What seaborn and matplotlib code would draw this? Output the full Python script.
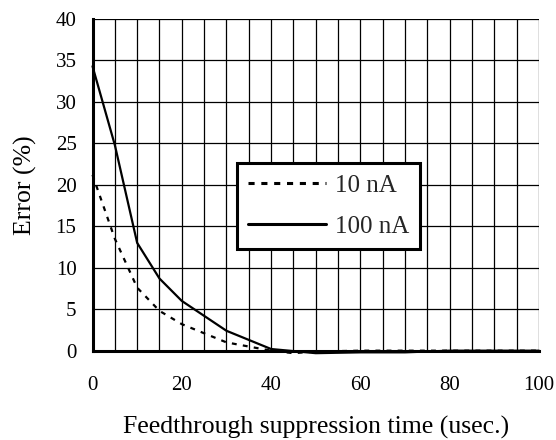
import matplotlib
matplotlib.use("Agg")
import matplotlib.pyplot as plt
import seaborn as sns
import pandas as pd
import numpy as np
from matplotlib.lines import Line2D

# Data
x_10nA = [0, 5, 10, 15, 20, 25, 30, 40, 45, 50, 60, 70, 80, 100]
y_10nA = [21.2, 13.5, 7.6, 4.8, 3.2, 2.1, 1.0, 0.0, -0.3, -0.1, 0.0, 0.0, 0.0, 0.0]
x_100nA = [0, 5, 10, 15, 20, 30, 40, 50, 60, 70, 80, 100]
y_100nA = [34.3, 24.8, 13.0, 8.7, 6.0, 2.4, 0.2, -0.3, -0.2, -0.2, 0.0, 0.0]
series_names = ["10 nA", "100 nA"]
x_ticks = [0, 20, 40, 60, 80, 100]
y_ticks = [0, 5, 10, 15, 20, 25, 30, 35, 40]

df = pd.concat([
    pd.DataFrame({"t": x_10nA, "err": y_10nA, "series": series_names[0]}),
    pd.DataFrame({"t": x_100nA, "err": y_100nA, "series": series_names[1]}),
])

sns.set_theme(style="white")
plt.rcParams['font.family'] = ['Liberation Serif', 'DejaVu Serif']

fig = plt.figure(figsize=(5.56, 4.40), dpi=100)
ax = fig.add_axes([0.1664, 0.2030, 0.8030, 0.7538])

sns.lineplot(data=df, x="t", y="err", hue="series", style="series",
             palette={series_names[0]: "black", series_names[1]: "black"},
             dashes={series_names[0]: (2.2, 2.8), series_names[1]: ""},
             linewidth=1.6, ax=ax, legend=False, sort=False)
for ln in ax.get_lines():
    ln.set_clip_on(False)
    ln.set_zorder(6)

ax.set_xlim(0, 100)
ax.set_ylim(0, 40)
ax.set_xticks(x_ticks)
ax.set_xticks(np.arange(0, 101, 5), minor=True)
ax.set_yticks(y_ticks)
ax.grid(True, which="both", color="black", linewidth=0.9)
ax.set_axisbelow(True)

for s in ["top", "right"]:
    ax.spines[s].set_visible(False)
for s in ["left", "bottom"]:
    ax.spines[s].set_linewidth(2.2)
    ax.spines[s].set_color("black")
    ax.spines[s].set_zorder(5)

ax.tick_params(axis="both", which="major", direction="inout", length=7, width=2,
               color="black", labelsize=15, labelcolor="black")
ax.tick_params(axis="x", which="minor", length=0)
ax.tick_params(axis="x", which="major", pad=15)
ax.tick_params(axis="y", which="major", pad=8)

ax.set_xlabel("Feedthrough suppression time (usec.)", fontsize=18.5, labelpad=15, color="black")
ax.set_ylabel("Error (%)", fontsize=18.5, labelpad=13, color="black")

handles = [Line2D([], [], color="black", linewidth=2.2, dashes=(2, 2.2)),
           Line2D([], [], color="black", linewidth=2.2)]
leg = ax.legend(handles, series_names, loc="upper left",
                bbox_to_anchor=((237 - 92.5) / 446.5, (350.7 - 163) / 331.7),
                frameon=True, fancybox=False, fontsize=18, handlelength=3.1,
                borderpad=0.45, labelspacing=0.75, handletextpad=0.35,
                borderaxespad=0)
leg.get_frame().set_edgecolor("black")
leg.get_frame().set_linewidth(2.2)
leg.get_frame().set_facecolor("white")
leg.get_frame().set_alpha(1)
leg.set_zorder(10)

fig.savefig("out.png", dpi=100)
